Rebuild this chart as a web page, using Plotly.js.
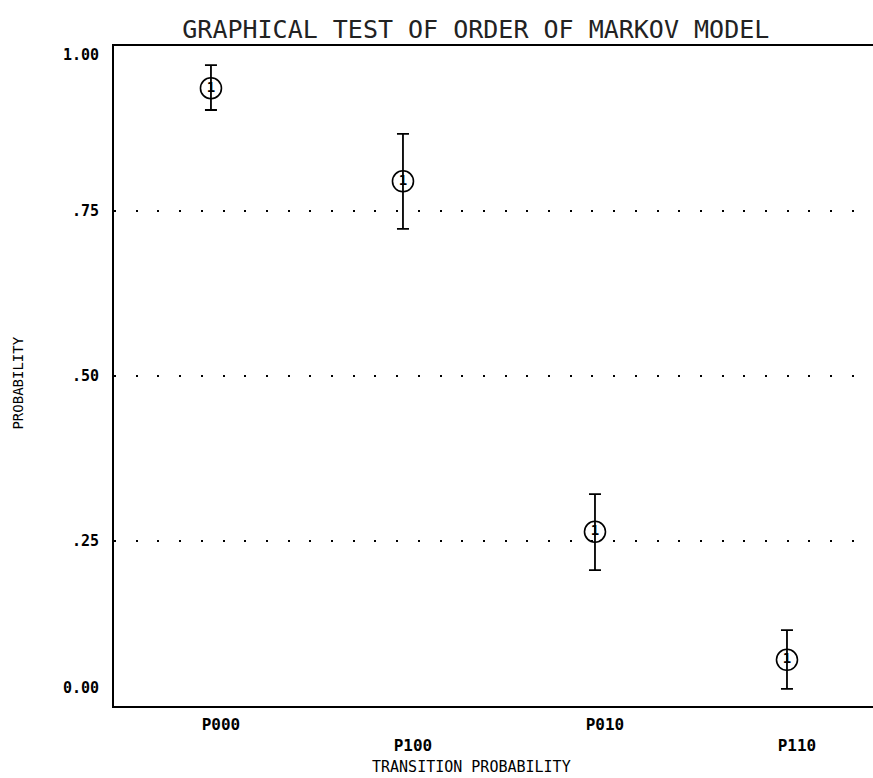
<!DOCTYPE html>
<html>
<head>
<meta charset="utf-8">
<script src="https://cdn.plot.ly/plotly-3.0.1.min.js"></script>
<style>html,body{margin:0;padding:0;background:#fff;}#chart{width:873px;height:778px;}</style>
</head>
<body>
<div id="chart"></div>
<script>
// Data
const categories = ['P000', 'P100', 'P010', 'P110'];
const probability = [0.936, 0.795, 0.264, 0.070];
const errUpper = [0.035, 0.072, 0.057, 0.045];
const errLower = [0.033, 0.072, 0.058, 0.044];
const pointLabels = ['1', '1', '1', '1'];
const yTickVals = [0.027, 0.25, 0.5, 0.75, 0.986];
const yTickText = ['0.00', '.25', '.50', '.75', '1.00'];
const gridVals = [0.25, 0.5, 0.75];
// staggered category tick labels
const xTickText = categories.map((c, i) => (i % 2 ? '<br>' + c : c));

const mono = 'DejaVu Sans Mono, monospace';

const trace = {
  type: 'scatter',
  mode: 'markers+text',
  x: categories,
  y: probability,
  text: pointLabels,
  textposition: 'middle center',
  textfont: {family: mono, size: 14, color: '#000', weight: 'bold'},
  marker: {symbol: 'circle-open', size: 21, color: '#000', line: {width: 1.6, color: '#000'}},
  error_y: {
    type: 'data', symmetric: false,
    array: errUpper, arrayminus: errLower,
    color: '#000', thickness: 1.8, width: 6
  },
  cliponaxis: false,
  showlegend: false,
  hoverinfo: 'skip'
};

// invisible trace so the label axis (y2) is drawn
const labelAxisTrace = {
  type: 'scatter', mode: 'markers',
  x: categories, y: probability, yaxis: 'y2',
  marker: {opacity: 0, size: 1},
  showlegend: false, hoverinfo: 'skip'
};

const layout = {
  width: 873, height: 778,
  margin: {l: 114, r: 0, t: 46, b: 72, pad: 0},
  paper_bgcolor: '#fff', plot_bgcolor: '#fff',
  showlegend: false,
  title: {
    text: 'GRAPHICAL TEST OF ORDER OF MARKOV MODEL',
    font: {family: mono, size: 25, color: '#222'},
    xref: 'container', x: 0.545, xanchor: 'center',
    yref: 'container', y: 0.962, yanchor: 'middle'
  },
  xaxis: {
    type: 'category',
    range: [-0.505, 3.448],
    tickmode: 'array', tickvals: categories, ticktext: xTickText,
    tickfont: {family: mono, size: 16, color: '#000', weight: 'bold'},
    ticks: '', ticklabelstandoff: 3, ticklabelshift: 10,
    showline: true, mirror: true, linecolor: '#000', linewidth: 2,
    showgrid: false, zeroline: false, fixedrange: true
  },
  yaxis: {
    range: [0, 1],
    tickmode: 'array', tickvals: gridVals,
    showticklabels: false, ticks: '',
    showgrid: true, gridcolor: '#000', gridwidth: 1.6, griddash: '2px,19.7px',
    showline: true, linecolor: '#000', linewidth: 1.6,
    zeroline: false, fixedrange: true
  },
  yaxis2: {
    overlaying: 'y', side: 'left', range: [0, 1],
    tickmode: 'array', tickvals: yTickVals, ticktext: yTickText,
    tickfont: {family: mono, size: 15, color: '#000', weight: 'bold'},
    ticks: '', ticklabelstandoff: 14,
    showgrid: false, showline: false, zeroline: false, fixedrange: true
  },
  annotations: [
    {
      text: 'TRANSITION PROBABILITY', showarrow: false,
      xref: 'paper', yref: 'paper', x: 0.4704, y: -0.093,
      xanchor: 'center', yanchor: 'middle',
      font: {family: mono, size: 15, color: '#000'}
    },
    {
      text: 'PROBABILITY', showarrow: false, textangle: -90,
      xref: 'paper', yref: 'paper', x: -0.1265, y: 0.49,
      xanchor: 'center', yanchor: 'middle',
      font: {family: mono, size: 14, color: '#000'}
    }
  ]
};

Plotly.newPlot('chart', [trace, labelAxisTrace], layout, {staticPlot: true, displayModeBar: false});
</script>
</body>
</html>
